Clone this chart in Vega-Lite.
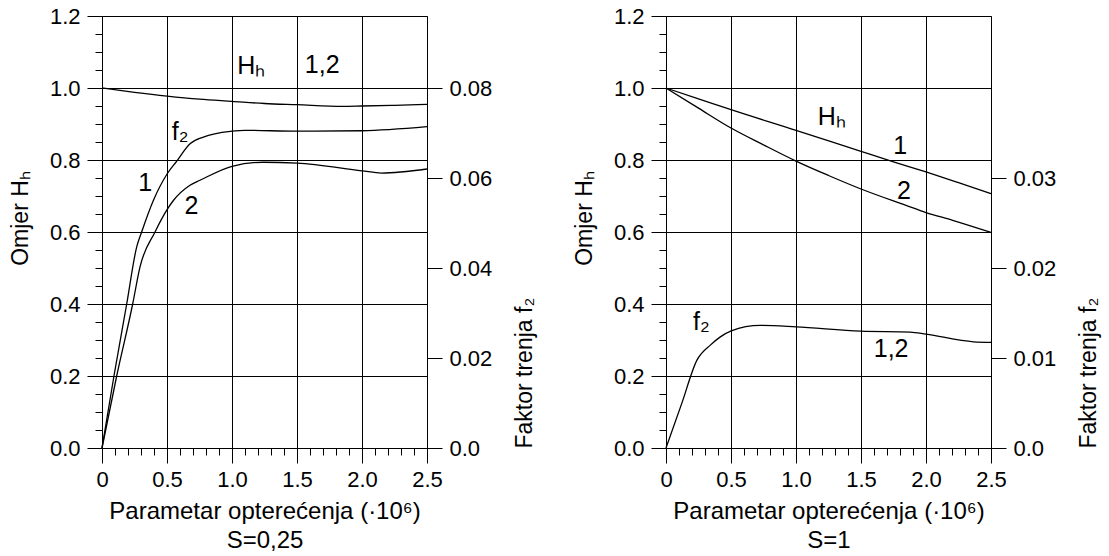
{
  "$schema": "https://vega.github.io/schema/vega-lite/v6.json",
  "padding": {"left": 9, "top": 5, "right": 5, "bottom": 0},
  "background": "white",
  "datasets": {
    "h_a": [
      {"x": 0, "h": 1.0, "curve": "1,2"}, {"x": 0.25, "h": 0.988, "curve": "1,2"}, {"x": 0.5, "h": 0.9775, "curve": "1,2"},
      {"x": 0.75, "h": 0.969, "curve": "1,2"}, {"x": 1.0, "h": 0.963, "curve": "1,2"}, {"x": 1.25, "h": 0.957, "curve": "1,2"},
      {"x": 1.5, "h": 0.9536, "curve": "1,2"}, {"x": 1.85, "h": 0.949, "curve": "1,2"}, {"x": 2.0, "h": 0.95, "curve": "1,2"},
      {"x": 2.25, "h": 0.952, "curve": "1,2"}, {"x": 2.5, "h": 0.9545, "curve": "1,2"}
    ],
    "f_a": [
      {"x": 0, "f": 0, "curve": "1"}, {"x": 0.092, "f": 0.016, "curve": "1"}, {"x": 0.19, "f": 0.032, "curve": "1"},
      {"x": 0.267, "f": 0.0447, "curve": "1"}, {"x": 0.305, "f": 0.048, "curve": "1"}, {"x": 0.395, "f": 0.055, "curve": "1"},
      {"x": 0.503, "f": 0.061, "curve": "1"}, {"x": 0.574, "f": 0.0637, "curve": "1"}, {"x": 0.677, "f": 0.0676, "curve": "1"},
      {"x": 0.78, "f": 0.0691, "curve": "1"}, {"x": 1.0, "f": 0.0704, "curve": "1"}, {"x": 1.1, "f": 0.0706, "curve": "1"},
      {"x": 1.5, "f": 0.0704, "curve": "1"}, {"x": 2.0, "f": 0.0705, "curve": "1"}, {"x": 2.5, "f": 0.0714, "curve": "1"},
      {"x": 0, "f": 0, "curve": "2"}, {"x": 0.113, "f": 0.016, "curve": "2"}, {"x": 0.236, "f": 0.032, "curve": "2"},
      {"x": 0.292, "f": 0.0402, "curve": "2"}, {"x": 0.408, "f": 0.048, "curve": "2"}, {"x": 0.497, "f": 0.0528, "curve": "2"},
      {"x": 0.549, "f": 0.055, "curve": "2"}, {"x": 0.677, "f": 0.0584, "curve": "2"}, {"x": 0.754, "f": 0.0595, "curve": "2"},
      {"x": 1.0, "f": 0.0626, "curve": "2"}, {"x": 1.24, "f": 0.0635, "curve": "2"}, {"x": 1.5, "f": 0.0633, "curve": "2"},
      {"x": 2.0, "f": 0.0616, "curve": "2"}, {"x": 2.15, "f": 0.0611, "curve": "2"}, {"x": 2.5, "f": 0.062, "curve": "2"}
    ],
    "lab_a": [
      {"x": 1.04, "y": 1.04, "t": "Hₕ"}, {"x": 1.56, "y": 1.041, "t": "1,2"}, {"x": 0.537, "y": 0.855, "t": "f₂"},
      {"x": 0.278, "y": 0.714, "t": "1"}, {"x": 0.635, "y": 0.65, "t": "2"}
    ],
    "h_b": [
      {"x": 0, "h": 1.0, "curve": "1"}, {"x": 0.25, "h": 0.97, "curve": "1"}, {"x": 0.5, "h": 0.9398, "curve": "1"},
      {"x": 1.0, "h": 0.8824, "curve": "1"}, {"x": 1.5, "h": 0.824, "curve": "1"}, {"x": 1.75, "h": 0.795, "curve": "1"},
      {"x": 2.0, "h": 0.7667, "curve": "1"}, {"x": 2.25, "h": 0.737, "curve": "1"}, {"x": 2.5, "h": 0.7067, "curve": "1"},
      {"x": 0, "h": 1.0, "curve": "2"}, {"x": 0.25, "h": 0.944, "curve": "2"}, {"x": 0.5, "h": 0.8888, "curve": "2"},
      {"x": 0.75, "h": 0.842, "curve": "2"}, {"x": 1.0, "h": 0.797, "curve": "2"}, {"x": 1.25, "h": 0.757, "curve": "2"},
      {"x": 1.5, "h": 0.7195, "curve": "2"}, {"x": 1.846, "h": 0.674, "curve": "2"}, {"x": 2.0, "h": 0.654, "curve": "2"},
      {"x": 2.205, "h": 0.6326, "curve": "2"}, {"x": 2.5, "h": 0.599, "curve": "2"}
    ],
    "f_b": [
      {"x": 0, "f": 0, "curve": "1,2"}, {"x": 0.12, "f": 0.0049, "curve": "1,2"}, {"x": 0.238, "f": 0.00976, "curve": "1,2"},
      {"x": 0.341, "f": 0.01143, "curve": "1,2"}, {"x": 0.418, "f": 0.01235, "curve": "1,2"}, {"x": 0.502, "f": 0.01302, "curve": "1,2"},
      {"x": 0.725, "f": 0.01362, "curve": "1,2"}, {"x": 1.0, "f": 0.01346, "curve": "1,2"}, {"x": 1.5, "f": 0.01298, "curve": "1,2"},
      {"x": 1.879, "f": 0.01288, "curve": "1,2"}, {"x": 2.0, "f": 0.01265, "curve": "1,2"}, {"x": 2.366, "f": 0.0118, "curve": "1,2"},
      {"x": 2.5, "f": 0.01173, "curve": "1,2"}
    ],
    "lab_b": [
      {"x": 1.167, "y": 0.896, "t": "Hₕ"}, {"x": 1.749, "y": 0.818, "t": "1"}, {"x": 1.776, "y": 0.693, "t": "2"},
      {"x": 0.208, "y": 0.327, "t": "f₂"}, {"x": 1.598, "y": 0.253, "t": "1,2"}
    ]
  },
  "spacing": 36,
  "hconcat": [
    {
      "width": 325, "height": 432,
      "layer": [
        {
          "data": {"name": "h_a"},
          "mark": {"type": "line", "color": "#000", "strokeWidth": 1.3, "interpolate": "monotone"},
          "encoding": {
            "x": {"field": "x", "type": "quantitative", "scale": {"domain": [0, 2.5], "nice": false, "zero": false},
              "axis": {"values": [0,0.1,0.2,0.3,0.4,0.5,0.6,0.7,0.8,0.9,1.0,1.1,1.2,1.3,1.4,1.5,1.6,1.7,1.8,1.9,2.0,2.1,2.2,2.3,2.4,2.5],
                "tickCount": 100,
                "labelExpr": "abs(datum.value*2 - round(datum.value*2)) < 0.001 ? (datum.value == 0 ? '0' : format(datum.value, '.1f')) : ''",
                "tickSize": {"condition": {"test": "abs(datum.value*2 - round(datum.value*2)) < 0.001", "value": 15}, "value": 7},
                "gridOpacity": {"condition": {"test": "abs(datum.value*2 - round(datum.value*2)) < 0.001", "value": 1}, "value": 0},
                "grid": true, "labelOverlap": false, "labelPadding": 6, "labelFlush": false,
                "title": ["Parametar opterećenja (·10⁶)", "S=0,25"], "titleFontSize": 24, "titlePadding": 9, "titleLineHeight": 29}},
            "y": {"field": "h", "type": "quantitative", "scale": {"domain": [0, 1.2], "nice": false},
              "axis": {"orient": "left", "values": [0,0.05,0.1,0.15,0.2,0.25,0.3,0.35,0.4,0.45,0.5,0.55,0.6,0.65,0.7,0.75,0.8,0.85,0.9,0.95,1.0,1.05,1.1,1.15,1.2],
                "tickCount": 100,
                "labelExpr": "abs(datum.value*5 - round(datum.value*5)) < 0.001 ? format(datum.value, '.1f') : ''",
                "tickSize": {"condition": {"test": "abs(datum.value*5 - round(datum.value*5)) < 0.001", "value": 15}, "value": 7},
                "gridOpacity": {"condition": {"test": "abs(datum.value*5 - round(datum.value*5)) < 0.001", "value": 1}, "value": 0},
                "grid": true, "labelOverlap": false, "labelPadding": 7, "labelFlush": false,
                "title": "Omjer Hₕ", "titlePadding": 17, "titleY": 202}},
            "detail": {"field": "curve", "type": "nominal"}
          }
        },
        {
          "data": {"name": "f_a"},
          "mark": {"type": "line", "color": "#000", "strokeWidth": 1.3, "interpolate": "monotone"},
          "encoding": {
            "x": {"field": "x", "type": "quantitative"},
            "y": {"field": "f", "type": "quantitative", "scale": {"domain": [0, 0.096], "nice": false},
              "axis": {"orient": "right", "values": [0, 0.02, 0.04, 0.06, 0.08], "tickCount": 100,
                "labelExpr": "datum.value == 0 ? '0.0' : format(datum.value, '.2f')",
                "tickSize": 15, "grid": false, "labelPadding": 7, "labelFlush": false, "labelOverlap": false,
                "title": "Faktor trenja f₂", "titleAngle": 270, "titleBaseline": "top", "titleAlign": "left", "titleY": 432, "titlePadding": 22}},
            "detail": {"field": "curve", "type": "nominal"}
          }
        },
        {
          "data": {"name": "lab_a"},
          "mark": {"type": "text", "align": "left", "baseline": "alphabetic", "fontSize": 25, "color": "#000"},
          "encoding": {
            "x": {"field": "x", "type": "quantitative"},
            "y": {"field": "y", "type": "quantitative", "scale": {"domain": [0, 1.2], "nice": false}, "axis": null},
            "text": {"field": "t"}
          }
        }
      ],
      "resolve": {"scale": {"y": "independent"}}
    },
    {
      "width": 325, "height": 432,
      "layer": [
        {
          "data": {"name": "h_b"},
          "mark": {"type": "line", "color": "#000", "strokeWidth": 1.3, "interpolate": "monotone"},
          "encoding": {
            "x": {"field": "x", "type": "quantitative", "scale": {"domain": [0, 2.5], "nice": false, "zero": false},
              "axis": {"values": [0,0.1,0.2,0.3,0.4,0.5,0.6,0.7,0.8,0.9,1.0,1.1,1.2,1.3,1.4,1.5,1.6,1.7,1.8,1.9,2.0,2.1,2.2,2.3,2.4,2.5],
                "tickCount": 100,
                "labelExpr": "abs(datum.value*2 - round(datum.value*2)) < 0.001 ? (datum.value == 0 ? '0' : format(datum.value, '.1f')) : ''",
                "tickSize": {"condition": {"test": "abs(datum.value*2 - round(datum.value*2)) < 0.001", "value": 15}, "value": 7},
                "gridOpacity": {"condition": {"test": "abs(datum.value*2 - round(datum.value*2)) < 0.001", "value": 1}, "value": 0},
                "grid": true, "labelOverlap": false, "labelPadding": 6, "labelFlush": false,
                "title": ["Parametar opterećenja (·10⁶)", "S=1"], "titleFontSize": 24, "titlePadding": 9, "titleLineHeight": 29}},
            "y": {"field": "h", "type": "quantitative", "scale": {"domain": [0, 1.2], "nice": false},
              "axis": {"orient": "left", "values": [0,0.05,0.1,0.15,0.2,0.25,0.3,0.35,0.4,0.45,0.5,0.55,0.6,0.65,0.7,0.75,0.8,0.85,0.9,0.95,1.0,1.05,1.1,1.15,1.2],
                "tickCount": 100,
                "labelExpr": "abs(datum.value*5 - round(datum.value*5)) < 0.001 ? format(datum.value, '.1f') : ''",
                "tickSize": {"condition": {"test": "abs(datum.value*5 - round(datum.value*5)) < 0.001", "value": 15}, "value": 7},
                "gridOpacity": {"condition": {"test": "abs(datum.value*5 - round(datum.value*5)) < 0.001", "value": 1}, "value": 0},
                "grid": true, "labelOverlap": false, "labelPadding": 7, "labelFlush": false,
                "title": "Omjer Hₕ", "titlePadding": 17, "titleY": 202}},
            "detail": {"field": "curve", "type": "nominal"}
          }
        },
        {
          "data": {"name": "f_b"},
          "mark": {"type": "line", "color": "#000", "strokeWidth": 1.3, "interpolate": "monotone"},
          "encoding": {
            "x": {"field": "x", "type": "quantitative"},
            "y": {"field": "f", "type": "quantitative", "scale": {"domain": [0, 0.048], "nice": false},
              "axis": {"orient": "right", "values": [0, 0.01, 0.02, 0.03], "tickCount": 100,
                "labelExpr": "datum.value == 0 ? '0.0' : format(datum.value, '.2f')",
                "tickSize": 15, "grid": false, "labelPadding": 7, "labelFlush": false, "labelOverlap": false,
                "title": "Faktor trenja f₂", "titleAngle": 270, "titleBaseline": "top", "titleAlign": "left", "titleY": 432, "titlePadding": 22}},
            "detail": {"field": "curve", "type": "nominal"}
          }
        },
        {
          "data": {"name": "lab_b"},
          "mark": {"type": "text", "align": "left", "baseline": "alphabetic", "fontSize": 25, "color": "#000"},
          "encoding": {
            "x": {"field": "x", "type": "quantitative"},
            "y": {"field": "y", "type": "quantitative", "scale": {"domain": [0, 1.2], "nice": false}, "axis": null},
            "text": {"field": "t"}
          }
        }
      ],
      "resolve": {"scale": {"y": "independent"}}
    }
  ],
  "config": {
    "font": "Liberation Sans",
    "view": {"stroke": null},
    "text": {"font": "Liberation Sans"},
    "axis": {
      "domainColor": "#000", "tickColor": "#000", "gridColor": "#000", "labelColor": "#000", "titleColor": "#000",
      "labelFont": "Liberation Sans", "titleFont": "Liberation Sans",
      "labelFontSize": 22, "titleFontSize": 23, "titleFontWeight": "normal",
      "tickWidth": 1, "gridWidth": 1, "domainWidth": 1
    }
  }
}
